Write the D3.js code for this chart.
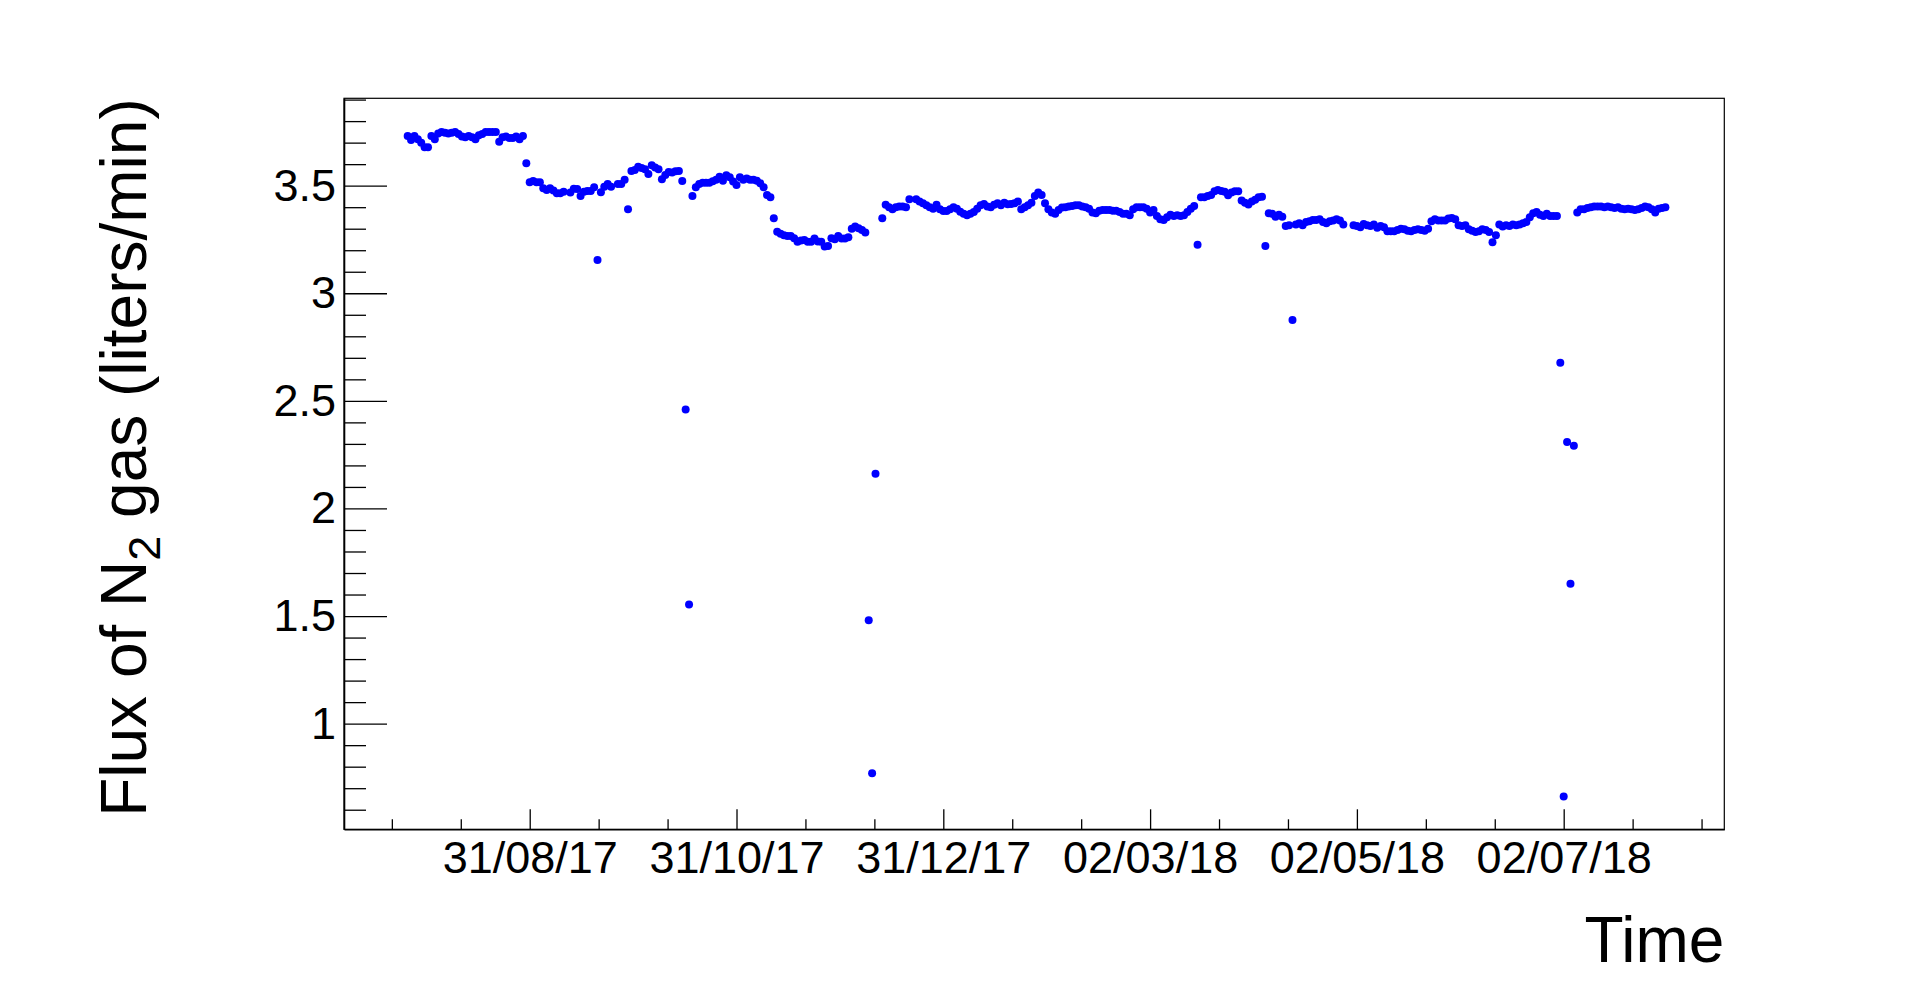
<!DOCTYPE html>
<html>
<head>
<meta charset="utf-8">
<script src="https://cdn.jsdelivr.net/npm/d3@7/dist/d3.min.js"></script>
<style>
  body { margin: 0; background: #ffffff; }
  svg text { font-family: "Liberation Sans", Arial, Helvetica, sans-serif; }
</style>
</head>
<body>
<div id="svg"></div>
<script>
// daily mean flux of N2, first entry is 26/07/17, null = no reading that day
var startDate = "2017-07-26";
var flux = [
    3.731, 3.712, 3.731, 3.716, 3.700, 3.678, 3.678, 3.731, 3.716, 3.743,
    3.749, 3.746, 3.743, 3.746, 3.749, 3.740, 3.728, 3.725, 3.731, 3.725,
    3.716, 3.734, 3.740, 3.749, 3.749, 3.749, 3.749, 3.704, 3.725, 3.728,
    3.722, 3.722, 3.728, 3.716, 3.731, 3.604, 3.516, 3.522, 3.516, 3.516,
    3.488, 3.480, 3.488, 3.477, 3.465, 3.465, 3.472, null,  3.468, 3.486,
    3.484, 3.452, 3.472, 3.475, 3.475, 3.493, 3.155, 3.469, 3.495, 3.508,
    3.495, null,  3.508, 3.508, 3.527, 3.390, 3.568, 3.573, 3.588, 3.582,
    3.576, 3.554, 3.595, 3.585, 3.576, 3.530, 3.550, 3.564, 3.561, 3.567,
    3.568, 3.522, 2.460, 1.554, 3.452, 3.493, 3.508, 3.514, 3.514, 3.514,
    3.520, 3.527, 3.542, 3.523, 3.548, 3.539, 3.519, 3.503, 3.539, 3.527,
    3.533, 3.527, 3.527, 3.523, 3.511, 3.493, 3.457, 3.446, 3.349, 3.286,
    3.276, 3.270, 3.266, 3.266, 3.256, 3.239, 3.245, 3.248, 3.239, 3.239,
    3.254, 3.240, 3.239, 3.217, 3.220, 3.256, 3.251, 3.266, 3.254, 3.254,
    3.260, 3.300, 3.310, 3.302, 3.294, 3.282, 1.480, 0.770, 2.161, null,
    3.349, 3.411, 3.400, 3.390, 3.400, 3.403, 3.403, 3.400, 3.437, null,
    3.437, 3.426, 3.418, 3.409, 3.400, 3.393, 3.411, 3.390, 3.382, 3.382,
    3.390, 3.400, 3.393, 3.379, 3.369, 3.363, 3.369, 3.378, 3.393, 3.409,
    3.415, 3.403, 3.400, 3.411, 3.418, 3.409, 3.421, 3.414, 3.415, 3.418,
    3.426, 3.390, 3.400, 3.409, 3.421, 3.452, 3.468, 3.457, 3.418, 3.390,
    3.375, 3.369, 3.387, 3.398, 3.400, 3.403, 3.406, 3.409, 3.409, 3.403,
    3.400, 3.393, 3.375, 3.372, 3.384, 3.387, 3.387, 3.387, 3.384, 3.384,
    3.378, 3.369, 3.369, 3.363, 3.390, 3.400, 3.400, 3.400, 3.393, 3.375,
    3.387, 3.359, 3.344, 3.341, 3.353, 3.365, 3.359, 3.363, 3.359, 3.363,
    3.378, 3.393, 3.406, 3.225, 3.446, 3.446, 3.452, 3.457, 3.474, 3.480,
    3.475, 3.472, 3.455, 3.468, 3.474, 3.474, 3.431, 3.421, 3.412, 3.426,
    3.434, 3.446, 3.449, 3.220, 3.372, 3.369, 3.356, 3.365, 3.356, 3.313,
    3.316, 2.876, 3.319, 3.325, 3.316, 3.331, 3.335, 3.341, 3.341, 3.344,
    3.331, 3.325, 3.335, 3.338, 3.344, 3.338, 3.319, null,  null,  3.316,
    3.313, 3.307, 3.322, 3.316, 3.313, 3.319, 3.304, 3.313, 3.307, 3.288,
    3.288, 3.288, 3.294, 3.300, 3.297, 3.291, 3.288, 3.294, 3.297, 3.294,
    3.291, 3.300, 3.335, 3.344, 3.338, 3.338, 3.338, 3.347, 3.350, 3.344,
    3.316, 3.313, 3.316, 3.297, 3.291, 3.285, 3.288, 3.297, 3.294, 3.285,
    3.237, 3.270, 3.319, 3.310, 3.316, 3.313, 3.319, 3.316, 3.319, 3.325,
    3.331, 3.353, 3.372, 3.378, 3.365, 3.359, 3.369, 3.359, 3.359, 3.359,
    2.677, 0.662, 2.309, 1.650, 2.291, 3.375, 3.390, 3.390, 3.396, 3.400,
    3.403, 3.403, 3.403, 3.400, 3.403, 3.400, 3.396, 3.400, 3.393, 3.390,
    3.393, 3.390, 3.387, 3.390, 3.396, 3.403, 3.400, 3.390, 3.375, 3.393,
    3.396, 3.400
];

// labelled time divisions and axis limits
var xLabelDates = ["2017-08-31", "2017-10-31", "2017-12-31", "2018-03-02", "2018-05-02", "2018-07-02"];
var xLimits = ["2017-07-07T05:17:00Z", "2018-08-18T09:00:00Z"];
var yLimits = [0.509, 3.906];
var yLabelValues = [1, 1.5, 2, 2.5, 3, 3.5];
var xTitle = "Time";
var yTitle = ["Flux of N", "2", " gas (liters/min)"];


var width = 1916;
var height = 989;
var frame = {left: 344, right: 1724.3, top: 98.3, bottom: 829.3};

var parseDay = d3.utcParse("%Y-%m-%d");
var t0 = parseDay(startDate);

var points = [];
for (var i = 0; i < flux.length; i++) {
    if (flux[i] === null) continue;
    points.push({'date': d3.utcDay.offset(t0, i), 'value': flux[i]});
}

var x = d3.scaleUtc()
    .domain(xLimits.map(function (d) { return new Date(d); }))
    .range([frame.left, frame.right]);
var y = d3.scaleLinear()
    .domain(yLimits)
    .range([frame.bottom, frame.top]);

// major time ticks, 3 subdivisions each
var majors = xLabelDates.map(parseDay);
var step = (majors[1] - majors[0]) / 3;
var minors = [];
var d0 = x.domain()[0].getTime(), d1 = x.domain()[1].getTime();
for (var k = Math.ceil((d0 - majors[0]) / step); majors[0].getTime() + k * step <= d1; k++) {
    if (k % 3 !== 0) minors.push(new Date(majors[0].getTime() + k * step));
}

var yMinors = d3.range(1, 40).map(function (k) { return k / 10; })
    .filter(function (v) { return v >= yLimits[0] && v <= yLimits[1] && Math.round(v * 10) % 5 !== 0; });

var svg = d3.select("#svg").append("svg")
    .attr("width", width)
    .attr("height", height)
    .style("background", "#ffffff");

// frame
svg.append("rect")
    .attr("x", frame.left)
    .attr("y", frame.top)
    .attr("width", frame.right - frame.left)
    .attr("height", frame.bottom - frame.top)
    .attr("fill", "none")
    .attr("stroke", "#000")
    .attr("stroke-width", 1.2);

// x axis
var gx = svg.append("g")
    .attr("transform", "translate(0," + frame.bottom + ")")
    .call(d3.axisBottom(x)
        .tickValues(majors)
        .tickSizeInner(-20)
        .tickSizeOuter(0)
        .tickPadding(12)
        .tickFormat(d3.utcFormat("%d/%m/%y")));
svg.append("g")
    .attr("transform", "translate(0," + frame.bottom + ")")
    .call(d3.axisBottom(x).tickValues(minors).tickSizeInner(-10).tickSizeOuter(0).tickFormat(""))
    .select(".domain").remove();

// y axis
var gy = svg.append("g")
    .attr("transform", "translate(" + frame.left + ",0)")
    .call(d3.axisLeft(y)
        .tickValues(yLabelValues)
        .tickSizeInner(-43)
        .tickSizeOuter(0)
        .tickPadding(8)
        .tickFormat(d3.format("~g")));
svg.append("g")
    .attr("transform", "translate(" + frame.left + ",0)")
    .call(d3.axisLeft(y).tickValues(yMinors).tickSizeInner(-22).tickSizeOuter(0).tickFormat(""))
    .select(".domain").remove();

svg.selectAll(".tick line").attr("stroke", "#000").attr("stroke-width", 1.3);
svg.selectAll(".domain").attr("stroke", "#000").attr("stroke-width", 1.6);
svg.selectAll(".tick text")
    .attr("fill", "#000")
    .style("font-size", "45px")
    .style("font-family", "'Liberation Sans', Arial, Helvetica, sans-serif");

// points
svg.append("g")
    .selectAll("circle")
    .data(points)
    .enter().append("circle")
    .attr("cx", function (d) { return x(d.date); })
    .attr("cy", function (d) { return y(d.value); })
    .attr("r", 4)
    .attr("fill", "#0000ff");

// titles
svg.append("text")
    .attr("x", frame.right)
    .attr("y", 962)
    .attr("text-anchor", "end")
    .style("font-size", "64px")
    .attr("fill", "#000")
    .text(xTitle);

var yt = svg.append("text")
    .attr("transform", "translate(146," + frame.top + ") rotate(-90)")
    .attr("text-anchor", "end")
    .style("font-size", "64px")
    .attr("fill", "#000");
yt.append("tspan").text(yTitle[0]);
yt.append("tspan").attr("dy", 14).style("font-size", "45px").text(yTitle[1]);
yt.append("tspan").attr("dy", -14).text(yTitle[2]);
</script>
</body>
</html>
